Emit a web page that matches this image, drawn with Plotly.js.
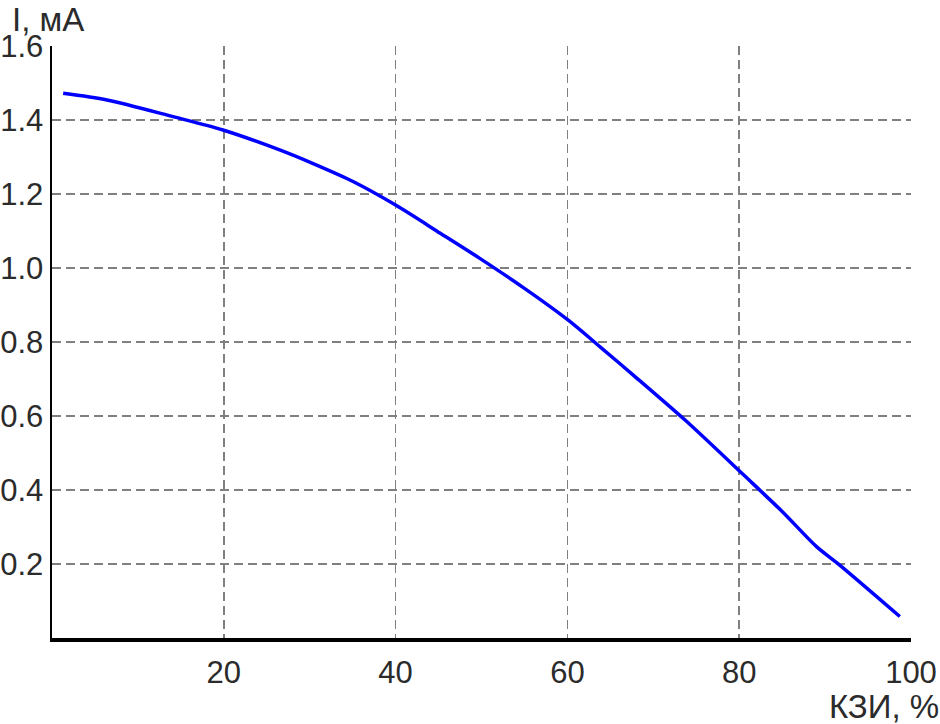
<!DOCTYPE html>
<html>
<head>
<meta charset="utf-8">
<script src="https://cdn.plot.ly/plotly-3.0.1.min.js"></script>
<style>html,body{margin:0;padding:0;background:#fff;}#chart{width:940px;height:724px;}</style>
</head>
<body>
<div id="chart"></div>
<script>
const kziPercent = [1.3, 6.4, 14.1, 19.9, 26.5, 30.4, 35.1, 40.0, 45.2, 49.8, 55.0, 60.1, 63.8, 67.7, 73.7, 80.5, 85.0, 89.0, 91.7, 98.7];
const currentMA  = [1.472, 1.454, 1.409, 1.373, 1.319, 1.282, 1.233, 1.170, 1.094, 1.026, 0.945, 0.859, 0.787, 0.710, 0.589, 0.441, 0.342, 0.247, 0.197, 0.058];
const xTicks = [20, 40, 60, 80, 100];
const yTicks = [0.2, 0.4, 0.6, 0.8, 1.0, 1.2, 1.4, 1.6];
const yTickText = ['0.2', '0.4', '0.6', '0.8', '1.0', '1.2', '1.4', '1.6'];
const yLabel = 'I, мА';
const xLabel = 'КЗИ, %';

const tickFont = {family: 'Liberation Sans, Arial, sans-serif', size: 31, color: '#2b2b2b'};
const titleFont = {family: 'Liberation Sans, Arial, sans-serif', size: 33, color: '#2b2b2b'};

const trace = {
  x: kziPercent, y: currentMA, type: 'scatter', mode: 'lines',
  line: {color: '#0000ff', width: 3.5, shape: 'spline', smoothing: 0.8},
  hoverinfo: 'skip'
};

const layout = {
  width: 940, height: 724,
  margin: {l: 52, r: 29, t: 46, b: 86},
  paper_bgcolor: '#ffffff', plot_bgcolor: '#ffffff',
  showlegend: false,
  xaxis: {
    range: [0, 100], tickvals: xTicks, ticks: '', ticklabelstandoff: 4,
    showgrid: true, gridcolor: '#808080', gridwidth: 1.5, griddash: '9px,5px',
    showline: true, linecolor: '#000000', linewidth: 3.5, zeroline: false,
    tickfont: tickFont, fixedrange: true
  },
  yaxis: {
    range: [0, 1.6], tickvals: yTicks, ticktext: yTickText, ticks: '', ticklabelstandoff: 0,
    showgrid: true, gridcolor: '#808080', gridwidth: 1.5, griddash: '9px,5px',
    showline: true, linecolor: '#000000', linewidth: 2.5, zeroline: false,
    tickfont: tickFont, fixedrange: true
  },
  annotations: [
    {text: yLabel, xref: 'paper', yref: 'paper', x: 0, y: 1, xanchor: 'left', yanchor: 'top',
     xshift: -42, yshift: 47, showarrow: false, font: titleFont},
    {text: xLabel, xref: 'paper', yref: 'paper', x: 1, y: 0, xanchor: 'right', yanchor: 'bottom',
     xshift: 30, yshift: -89, showarrow: false, font: titleFont}
  ]
};

Plotly.newPlot('chart', [trace], layout, {staticPlot: true, displayModeBar: false});
</script>
</body>
</html>
